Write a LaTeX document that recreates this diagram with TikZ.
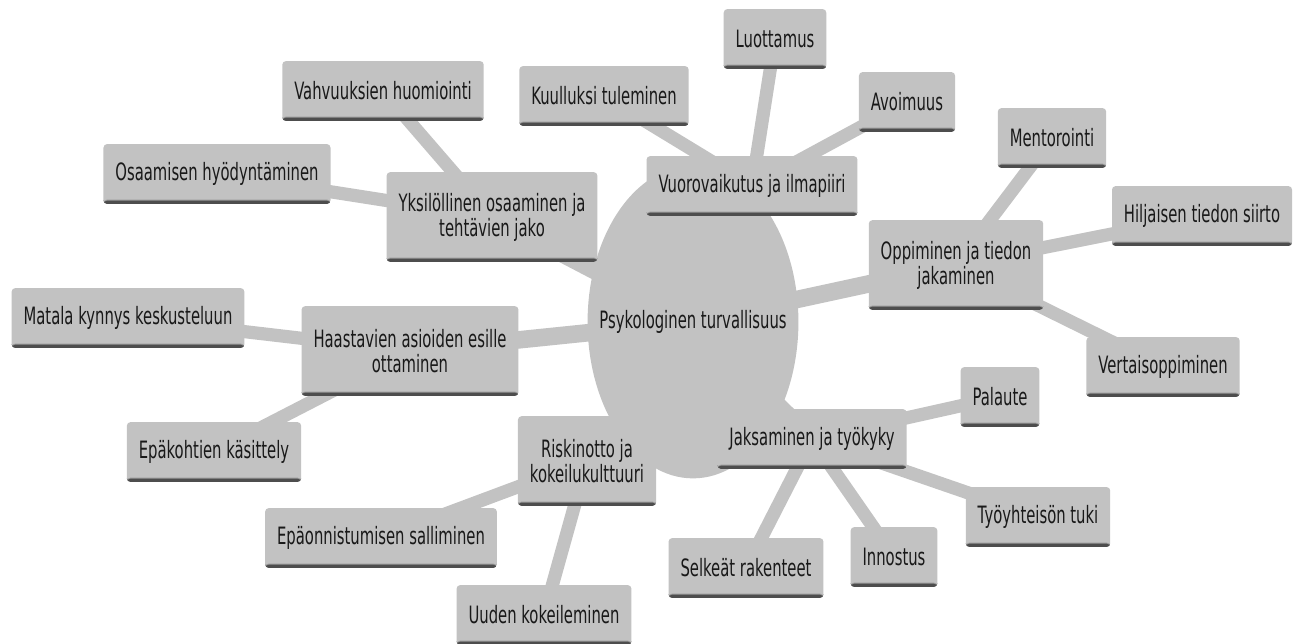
\documentclass[tikz,border=0pt]{standalone}
\usepackage{fontspec}
\setmainfont{DejaVu Sans}[FakeStretch=0.62]
\usepackage{tikz}
\usetikzlibrary{shapes.geometric, backgrounds}
\definecolor{mapGray}{HTML}{C2C2C2}
\definecolor{barDark}{HTML}{4D4D4D}

\begin{document}
\begin{tikzpicture}[x=0.02cm, y=-0.02cm,
    topic/.style={fill=mapGray, rounded corners=2pt, align=center, text=black!90,
      font=\fontsize{13.6}{14.2}\selectfont, inner xsep=6.8pt, minimum height=34pt,
      path picture={\fill[black!40] (path picture bounding box.south west) rectangle
        ([yshift=2.4pt]path picture bounding box.south east);
        \fill[barDark] (path picture bounding box.south west) rectangle
        ([yshift=1.8pt]path picture bounding box.south east);}},
    twoline/.style={topic, minimum height=51pt},
    trunk/.style={mapGray, line width=10pt},
    twig/.style={mapGray, line width=7.5pt}]
    \useasboundingbox (0,0) rectangle (1297,644);
    \node[ellipse, fill=mapGray, inner sep=0pt, minimum width=120pt, minimum height=178pt,
      label={[font=\fontsize{13.6}{14.2}\selectfont, text=black!90]center:Psykologinen turvallisuus}]
      (core) at (693,322) {};
    \node[topic] (vuoro) at (752,186) {Vuorovaikutus ja ilmapiiri};
    \node[topic] (luott) at (775,39) {Luottamus};
    \node[topic] (kuull) at (604,96) {Kuulluksi tuleminen};
    \node[topic] (avoim) at (907,102) {Avoimuus};
    \node[twoline] (yksil) at (492,217) {Yksilöllinen osaaminen ja\\tehtävien jako};
    \node[topic] (vahvu) at (383,91) {Vahvuuksien huomiointi};
    \node[topic] (osaam) at (217,174) {Osaamisen hyödyntäminen};
    \node[twoline] (oppim) at (956,265) {Oppiminen ja tiedon\\jakaminen};
    \node[topic] (mento) at (1052,138) {Mentorointi};
    \node[topic] (hiljai) at (1202,216) {Hiljaisen tiedon siirto};
    \node[topic] (verta) at (1163,367) {Vertaisoppiminen};
    \node[twoline] (haast) at (410,351) {Haastavien asioiden esille\\ottaminen};
    \node[topic] (matal) at (128,318) {Matala kynnys keskusteluun};
    \node[topic] (epako) at (214,452) {Epäkohtien käsittely};
    \node[twoline] (riski) at (587,461) {Riskinotto ja\\kokeilukulttuuri};
    \node[topic] (epaon) at (381,538) {Epäonnistumisen salliminen};
    \node[topic] (uuden) at (544,615) {Uuden kokeileminen};
    \node[topic] (jaksa) at (812,439) {Jaksaminen ja työkyky};
    \node[topic] (palau) at (1000,397) {Palaute};
    \node[topic] (tyoyh) at (1038,517) {Työyhteisön tuki};
    \node[topic] (innos) at (894,557) {Innostus};
    \node[topic] (selke) at (746,568) {Selkeät rakenteet};
    \begin{scope}[on background layer]
    \draw[trunk](core.center)--(vuoro.center);\draw[trunk](core.center)--(yksil.center);
    \draw[trunk](core.center)--(oppim.center);\draw[trunk](core.center)--(haast.center);
    \draw[trunk](core.center)--(riski.center);\draw[trunk](core.center)--(jaksa.center);
    \draw[twig](vuoro.center)--(luott.center);\draw[twig](vuoro.center)--(kuull.center);
    \draw[twig](vuoro.center)--(avoim.center);
    \draw[twig](yksil.center)--(vahvu.center);\draw[twig](yksil.center)--(osaam.center);
    \draw[twig](oppim.center)--(mento.center);\draw[twig](oppim.center)--(hiljai.center);
    \draw[twig](oppim.center)--(verta.center);
    \draw[twig](haast.center)--(matal.center);\draw[twig](haast.center)--(epako.center);
    \draw[twig](riski.center)--(epaon.center);\draw[twig](riski.center)--(uuden.center);
    \draw[twig](jaksa.center)--(palau.center);\draw[twig](jaksa.center)--(tyoyh.center);
    \draw[twig](jaksa.center)--(innos.center);\draw[twig](jaksa.center)--(selke.center);
    \end{scope}
  \end{tikzpicture}
\end{document}
